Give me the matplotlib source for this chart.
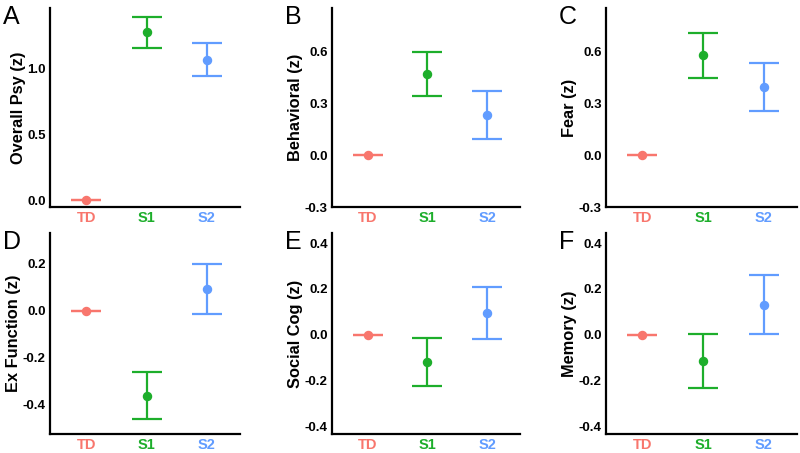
import matplotlib
matplotlib.use("Agg")
import matplotlib.pyplot as plt

plt.rcParams["font.family"] = ["Liberation Sans", "DejaVu Sans"]
plt.rcParams["axes.unicode_minus"] = False

# groups and colours
groups = ["TD", "S1", "S2"]
group_colors = ["#F8766D", "#1DAE2B", "#619CFF"]

# panel letters, y labels
letters = ["A", "B", "C", "D", "E", "F"]
ylabels = ["Overall Psy (z)", "Behavioral (z)", "Fear (z)",
           "Ex Function (z)", "Social Cog (z)", "Memory (z)"]

# means per panel (TD, S1, S2)
psy_mean = [0.0, 1.27, 1.06]
beh_mean = [0.0, 0.47, 0.23]
fear_mean = [0.0, 0.58, 0.395]
exf_mean = [0.0, -0.365, 0.093]
soc_mean = [0.0, -0.118, 0.094]
mem_mean = [0.0, -0.116, 0.131]

# lower / upper ends of the error bars
psy_lo = [0.0, 1.15, 0.94]
psy_hi = [0.0, 1.385, 1.19]
beh_lo = [0.0, 0.34, 0.093]
beh_hi = [0.0, 0.597, 0.368]
fear_lo = [0.0, 0.446, 0.256]
fear_hi = [0.0, 0.707, 0.533]
exf_lo = [0.0, -0.463, -0.015]
exf_hi = [0.0, -0.262, 0.2]
soc_lo = [0.0, -0.226, -0.019]
soc_hi = [0.0, -0.013, 0.207]
mem_lo = [0.0, -0.232, 0.004]
mem_hi = [0.0, 0.003, 0.259]

means = [psy_mean, beh_mean, fear_mean, exf_mean, soc_mean, mem_mean]
lows = [psy_lo, beh_lo, fear_lo, exf_lo, soc_lo, mem_lo]
highs = [psy_hi, beh_hi, fear_hi, exf_hi, soc_hi, mem_hi]

yticks = [[0.0, 0.5, 1.0], [-0.3, 0.0, 0.3, 0.6], [-0.3, 0.0, 0.3, 0.6],
          [-0.4, -0.2, 0.0, 0.2], [-0.4, -0.2, 0.0, 0.2, 0.4],
          [-0.4, -0.2, 0.0, 0.2, 0.4]]
ylims = [(-0.053, 1.455), (-0.3, 0.85), (-0.3, 0.85),
         (-0.526, 0.331), (-0.435, 0.445), (-0.435, 0.445)]

W, H = 800, 453
fig = plt.figure(figsize=(8, 4.53), dpi=100)

# axes boxes in pixels: left, right, top, bottom
col_x = [(50, 240), (332, 520), (606, 797)]
row_y = [(8, 207), (233, 434)]

for i in range(6):
    r, c = divmod(i, 3)
    x0, x1 = col_x[c]
    y0, y1 = row_y[r]
    ax = fig.add_axes([x0 / W, (H - y1) / H, (x1 - x0) / W, (y1 - y0) / H])
    for j in range(3):
        m = means[i][j]
        err = [[m - lows[i][j]], [highs[i][j] - m]]
        ax.errorbar(j + 1, m, yerr=err, fmt="o", color=group_colors[j],
                    ms=5.8, elinewidth=1.6, capsize=10.5, capthick=1.6)
    ax.set_xlim(0.4, 3.55)
    ax.set_ylim(*ylims[i])
    ax.set_yticks(yticks[i])
    ax.set_yticklabels([f"{t:.1f}" for t in yticks[i]], fontweight="bold",
                       fontsize=9.5)
    ax.set_xticks([1, 2, 3])
    ax.set_xticklabels(groups, fontweight="bold", fontsize=10.5)
    for lab, col in zip(ax.get_xticklabels(), group_colors):
        lab.set_color(col)
    ax.tick_params(length=0, pad=3)
    ax.spines["top"].set_visible(False)
    ax.spines["right"].set_visible(False)
    ax.spines["left"].set_linewidth(1.6)
    ax.spines["bottom"].set_linewidth(1.6)
    ax.set_ylabel(ylabels[i], fontweight="bold", fontsize=11.8, labelpad=1)
    fig.text((x0 - 47) / W, (H - y0 - 9) / H, letters[i], fontsize=18,
             ha="left", va="center")

fig.savefig("out.png", dpi=100)
